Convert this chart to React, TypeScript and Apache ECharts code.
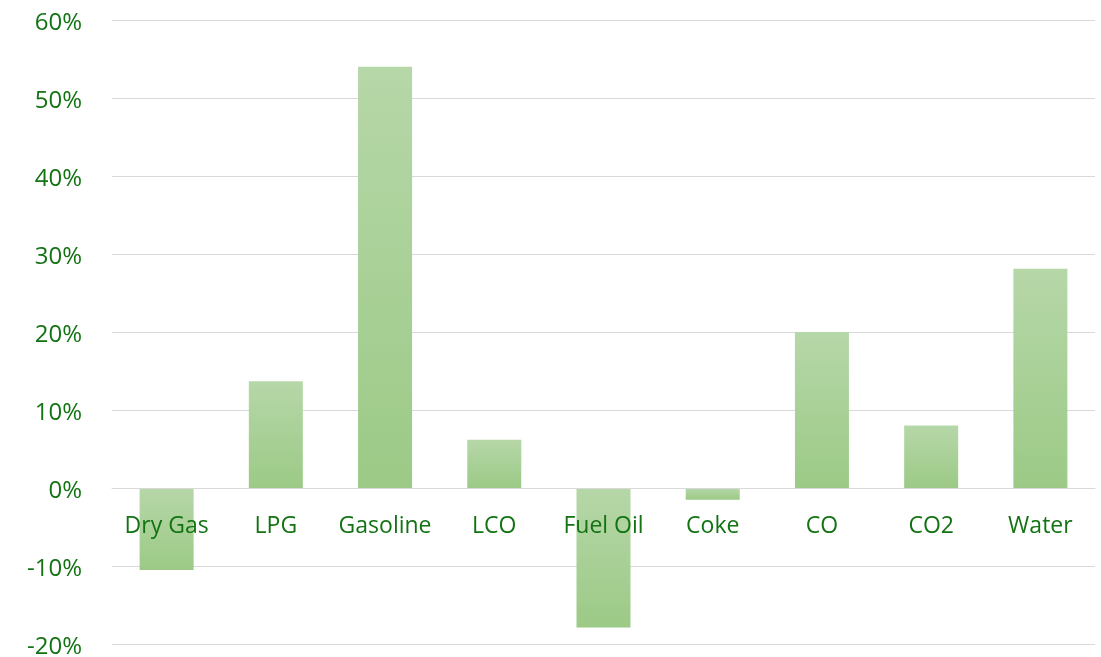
import React, { useEffect, useRef } from "react";
import * as echarts from "echarts";

const categories = ["Dry Gas", "LPG", "Gasoline", "LCO", "Fuel Oil", "Coke", "CO", "CO2", "Water"];
const values = [-10.5, 13.7, 54.0, 6.2, -17.9, -1.5, 20.0, 8.0, 28.1];
const yTicks = { min: -20, max: 60, interval: 10 };

export default function App() {
  const ref = useRef<HTMLDivElement>(null);
  useEffect(() => {
    if (!ref.current) return;
    const chart = echarts.init(ref.current, undefined, { renderer: "svg" });
    const textColor = "#137313";
    const font = "'Open Sans', Lato, sans-serif";
    chart.setOption({
      animation: false,
      grid: { left: 112, right: 6, top: 20, bottom: 13, containLabel: false, outerBoundsMode: "none" },
      xAxis: {
        type: "category",
        data: categories,
        z: 10,
        offset: -156,
        axisLine: { show: true, onZero: false, lineStyle: { color: "#d9d9d9", width: 1 } },
        axisTick: { show: false },
        axisLabel: { color: textColor, fontSize: 23, fontFamily: font, margin: 24, interval: 0 },
        splitLine: { show: false },
      },
      yAxis: {
        type: "value",
        min: yTicks.min,
        max: yTicks.max,
        interval: yTicks.interval,
        axisLine: { show: false },
        axisTick: { show: false },
        axisLabel: {
          color: textColor,
          fontSize: 24,
          fontFamily: font,
          margin: 30,
          formatter: (v: number) => `${v}%`,
        },
        splitLine: { lineStyle: { color: "#d9d9d9", width: 1 } },
      },
      series: [
        {
          type: "bar",
          data: values,
          barWidth: 54,
          itemStyle: {
            color: new echarts.graphic.LinearGradient(0, 0, 0, 1, [
              { offset: 0, color: "#b6d7a8" },
              { offset: 1, color: "#9cca86" },
            ]),
          },
        },
      ],
    });
    return () => chart.dispose();
  }, []);
  return <div ref={ref} style={{ position: "fixed", left: 0, top: 0, width: 1101, height: 657 }} />;
}
